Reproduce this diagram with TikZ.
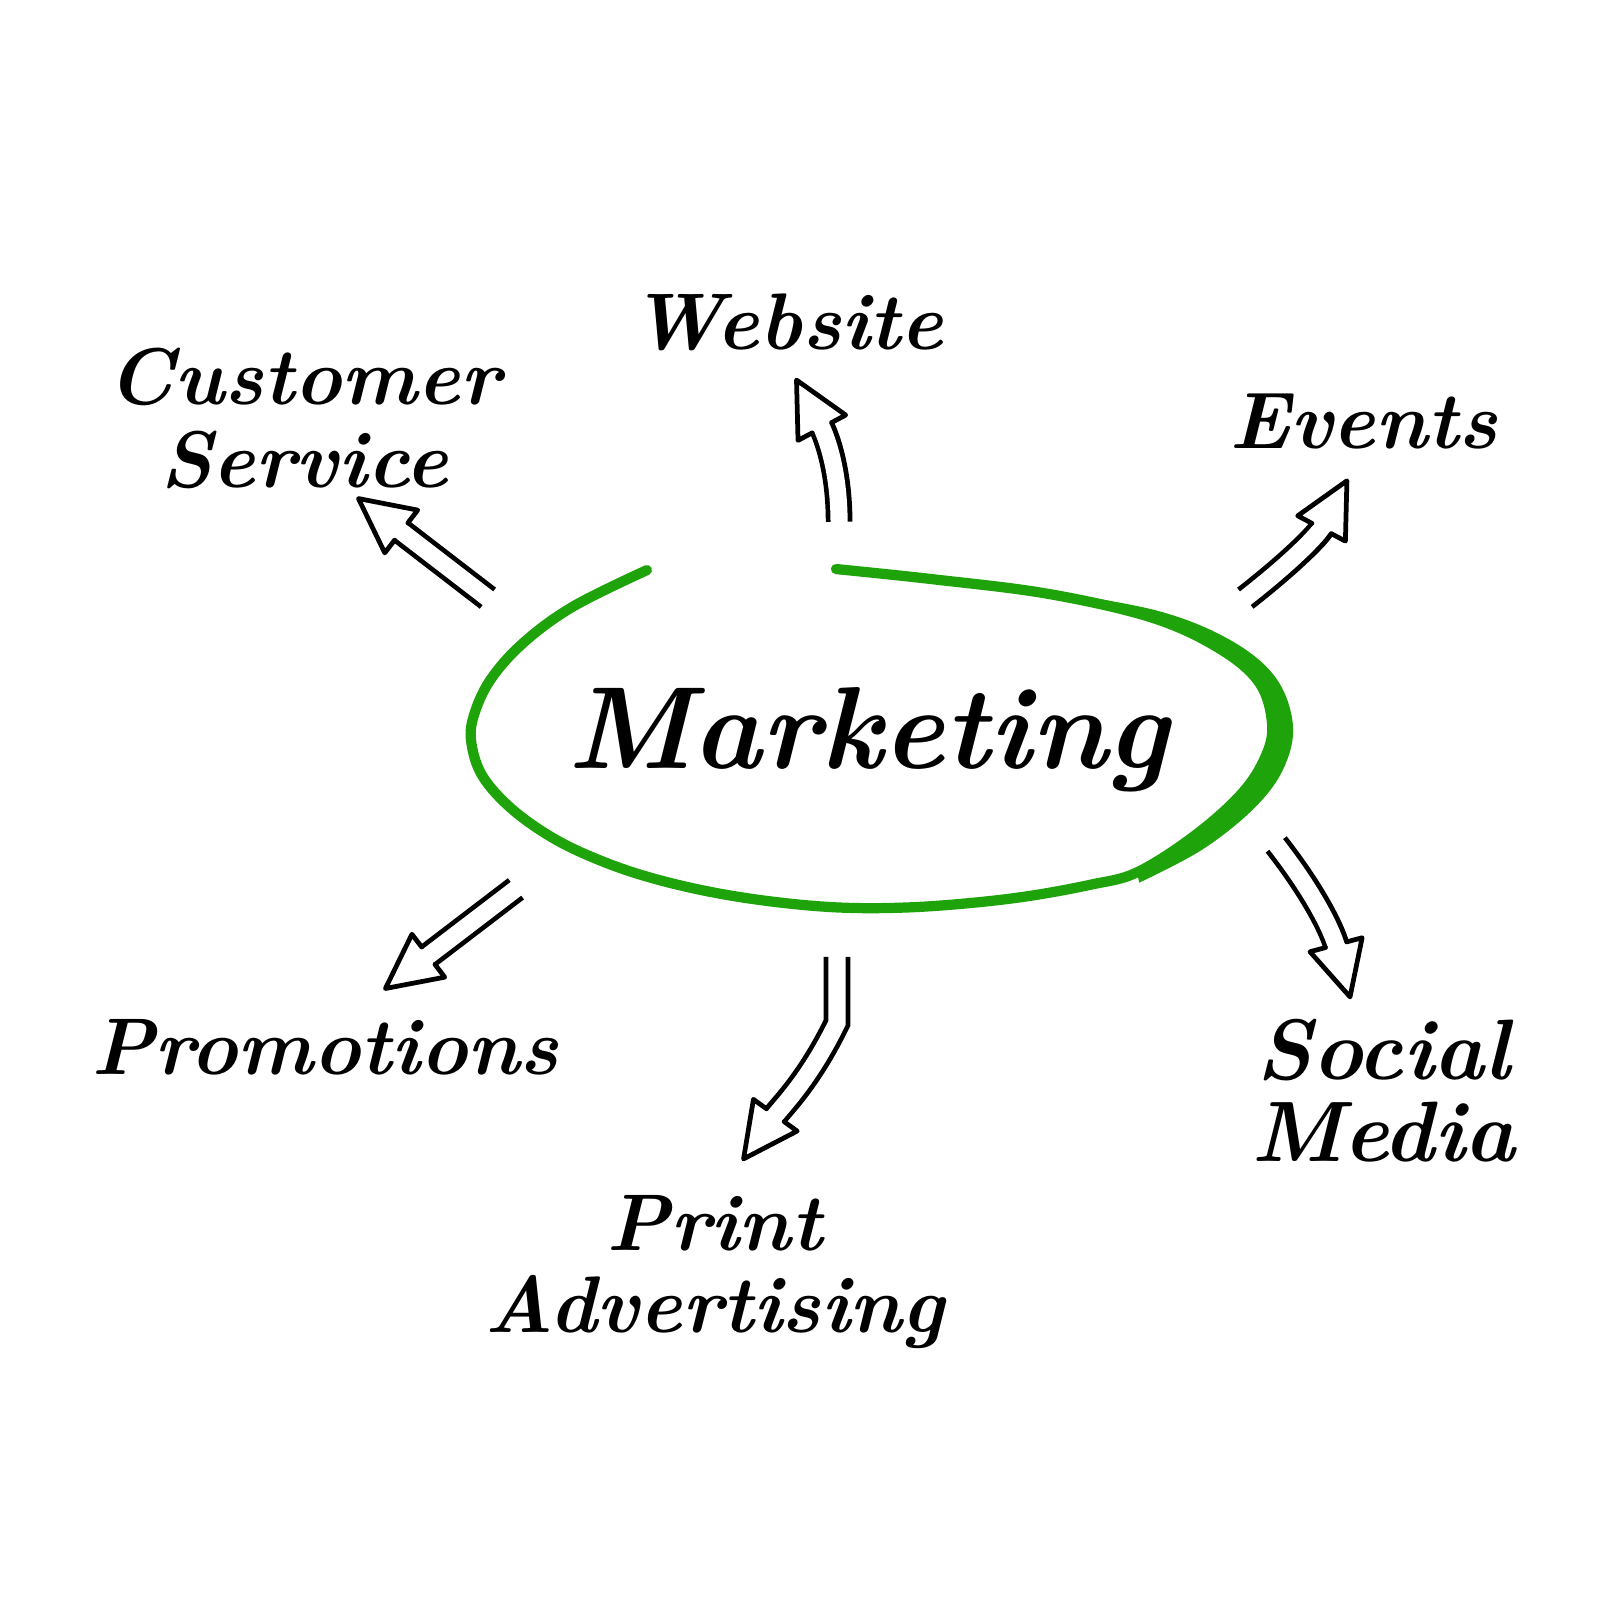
\documentclass[tikz,border=0pt]{standalone}
\usepackage{xcolor}
\usepackage{tikz}
\usetikzlibrary{decorations.markings}
\definecolor{ringgreen}{RGB}{31,163,10}

\tikzset{
    txt/.style={font=\fontsize{22}{22.5}\selectfont\bfseries\itshape, align=center},
    bigtxt/.style={font=\fontsize{32}{40}\selectfont\bfseries\itshape},
    shaft/.style={white, line width=1.65mm, shorten >=4.9mm,
        preaction={draw, black, line width=1.65mm+2.6pt, shorten >=5.2mm, shorten <=0.15mm},
        postaction={decorate, decoration={markings, mark=at position 1 with {
            \draw[black, line width=1.3pt, line join=round, line cap=round, shorten >=0pt, shorten <=0pt]
                (-5.2mm,1.05mm) -- (-5.2mm,2.6mm) -- (0,0) -- (-5.2mm,-2.6mm) -- (-5.2mm,-1.05mm);}}}}
}

\begin{document}
\begin{tikzpicture}
    \useasboundingbox[fill=white] (0,0) rectangle (15.6,15.6);

    % ring round the centre word
    \draw[ringgreen, line width=2.8pt, line cap=round] plot[smooth, tension=0.6] coordinates {
        (6.23,10.11) (5.52,9.76) (5.04,9.41) (4.72,9.05) (4.56,8.70) (4.54,8.44)
        (4.65,8.12) (4.94,7.80) (5.36,7.51) (5.84,7.29) (6.33,7.13) (6.90,7.00)
        (7.50,6.91) (8.10,6.86) (8.70,6.86) (9.30,6.90) (9.90,6.97) (10.50,7.08)
        (10.95,7.20) (11.50,7.55) (11.95,7.95) (12.18,8.30) (12.25,8.62)
        (12.13,9.02) (11.75,9.35) (11.10,9.65) (10.10,9.88) (9.00,10.02) (8.05,10.12)};
    \fill[ringgreen] plot[smooth, tension=0.6] coordinates {
        (10.95,7.20) (11.50,7.55) (11.95,7.95) (12.18,8.30) (12.25,8.62)
        (12.13,9.02) (11.75,9.35) (11.10,9.65) (10.10,9.88)}
        -- plot[smooth, tension=0.6] coordinates {
        (10.10,9.91) (11.14,9.72) (11.84,9.44) (12.28,9.08) (12.45,8.62)
        (12.36,8.20) (12.08,7.82) (11.58,7.42) (10.97,7.10)} -- cycle;

    \node[bigtxt, anchor=base] (mkt) at (8.36,8.20) {Marketing};

    %%%

    \node[txt, anchor=base] (web) at (7.58,12.23) {Website};
    \node[txt] (cs) at (2.93,11.57) {Customer\\Service};
    \node[txt, anchor=base] (ev) at (13.13,11.28) {Events};
    \node[txt, anchor=base] (promo) at (3.13,5.25) {Promotions};
    \node[txt] (print) at (6.88,3.35) {Print\\Advertising};
    \node[txt, font=\fontsize{23.5}{22.5}\selectfont\bfseries\itshape] (soc) at (13.32,5.10) {Social\\Media};

    %%%

    \coordinate (webTail) at (8.08,10.56);
    \coordinate (webTip) at (7.67,11.94);
    \coordinate (csTail) at (4.71,9.83);
    \coordinate (csTip) at (3.45,10.80);
    \coordinate (evTail) at (11.98,9.83);
    \coordinate (evTip) at (12.97,10.97);
    \coordinate (socTail) at (12.28,7.48);
    \coordinate (socTip) at (13.00,6.00);
    \coordinate (printTail) at (8.06,6.40);
    \coordinate (printBend) at (8.06,5.75);
    \coordinate (printTip) at (7.16,4.44);
    \coordinate (promoTail) at (4.98,7.05);
    \coordinate (promoTip) at (3.71,6.08);

    \draw[shaft] (webTail) to[out=90, in=-62] (webTip);
    \draw[shaft] (csTail) -- (csTip);
    \draw[shaft] (evTail) to[out=38, in=-118] (evTip);
    \draw[shaft] (socTail) to[out=-52, in=105] (socTip);
    \draw[shaft] (printTail) -- (printBend) to[out=-116, in=54] (printTip);
    \draw[shaft] (promoTail) -- (promoTip);
\end{tikzpicture}
\end{document}
